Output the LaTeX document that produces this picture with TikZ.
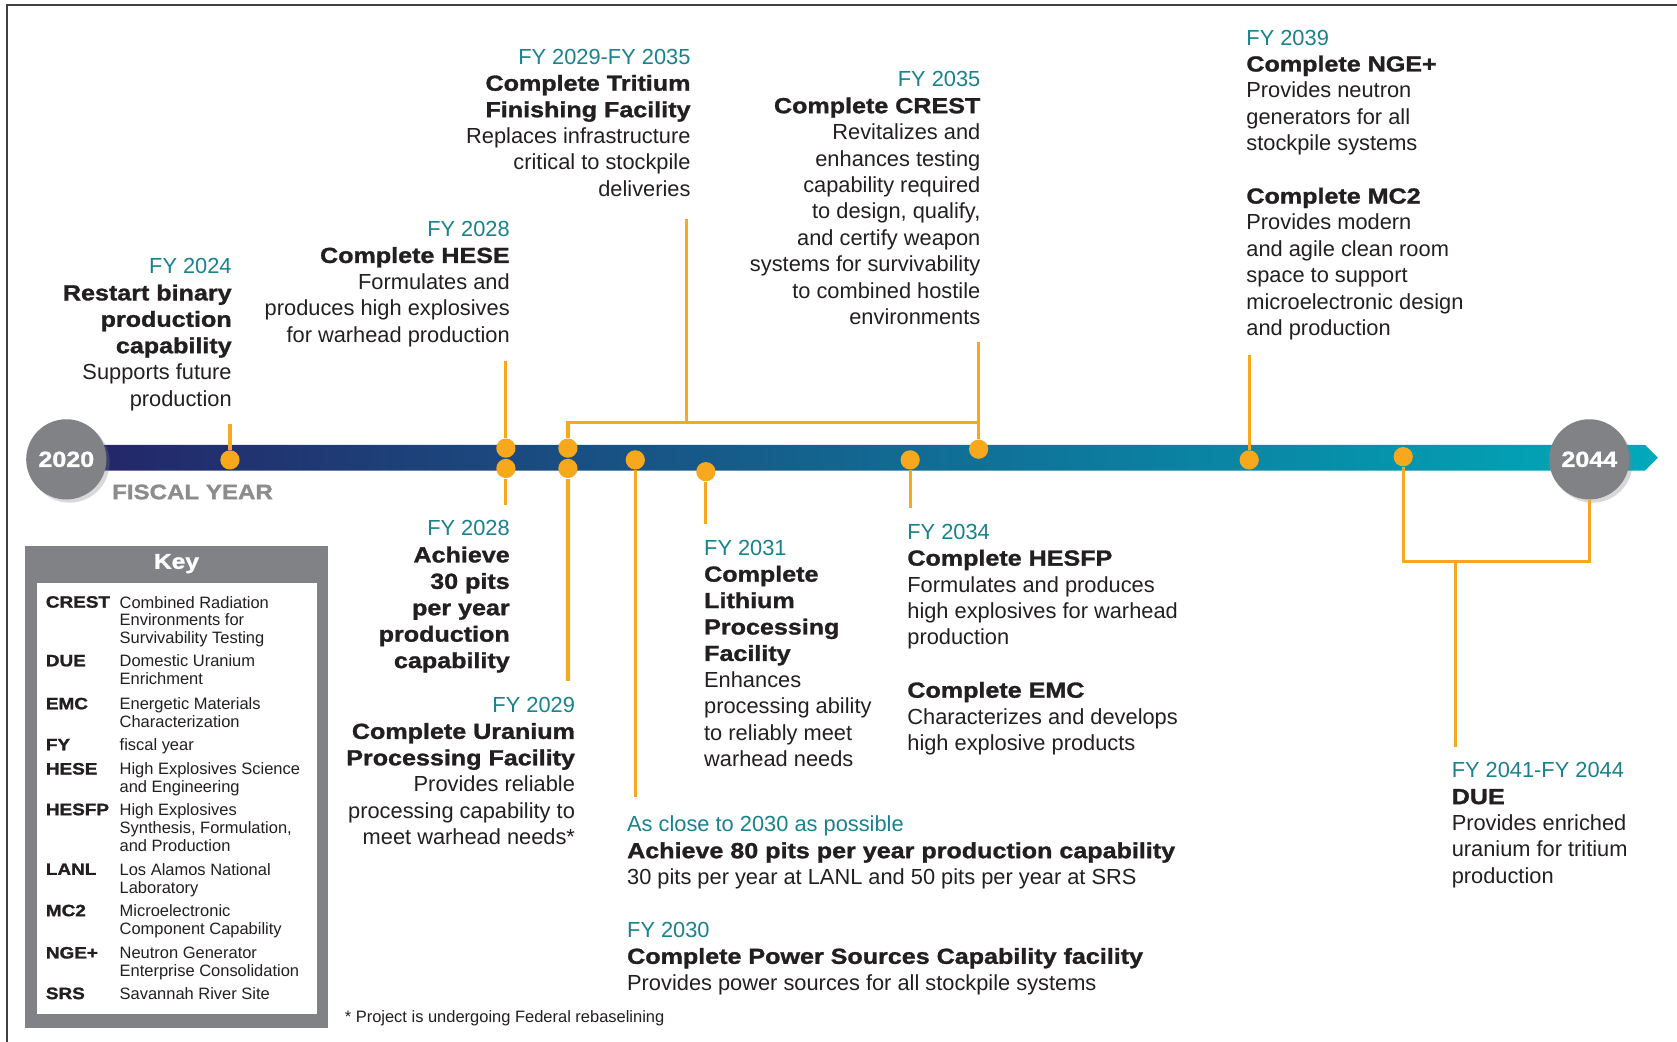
\documentclass[tikz,border=0pt]{standalone}
\usepackage{fontspec}
\setmainfont{Liberation Sans}
\newfontfamily\heavyfont[FakeStretch=1.15,FakeBold=1.3]{Liberation Sans}
\usetikzlibrary{shadows}

\definecolor{fyteal}{RGB}{25,130,140}
\definecolor{pinorange}{RGB}{247,168,28}
\definecolor{ballgray}{RGB}{128,130,133}
\definecolor{inkblack}{RGB}{35,31,32}
\definecolor{barleft}{RGB}{37,36,104}
\definecolor{barmid}{RGB}{14,82,136}
\definecolor{barright}{RGB}{0,170,186}

\newcommand{\hvy}[1]{{\heavyfont\bfseries #1}}
\newcommand{\fy}[1]{\textcolor{fyteal}{#1}}

\begin{document}
\begin{tikzpicture}[x=0.5pt,y=-0.5pt,
		txt/.style={inner sep=0pt,font=\fontsize{10.2}{12.35}\selectfont,text=inkblack},
		rtxt/.style={txt,align=right,anchor=north east},
		ltxt/.style={txt,align=left,anchor=north west},
		dot/.style={circle,fill=pinorange,inner sep=0pt,minimum size=9pt},
		stem/.style={pinorange,line width=1.5pt},
		yearball/.style={circle,fill=ballgray,inner sep=0pt,minimum size=37.5pt,text=white,
			font=\heavyfont\bfseries\fontsize{10.2}{12}\selectfont,
			drop shadow={shadow xshift=1.5pt,shadow yshift=-1.5pt,opacity=0.3}},
		keyabbr/.style={inner sep=0pt,anchor=north west,text=inkblack,font=\heavyfont\bfseries\fontsize{7.7}{8.3}\selectfont},
		keytxt/.style={inner sep=0pt,anchor=north west,align=left,text=inkblack,font=\fontsize{7.7}{8.3}\selectfont}]
			\useasboundingbox (0,0) rectangle (1568,974);
			\fill[white] (0,0) rectangle (1568,974);
			\draw[black!75,line width=1pt] (6.5,974) -- (6.5,4.7) -- (1568,4.7);

			\shade[left color=barleft,middle color=barmid,right color=barright] (62,416) -- (1538,416) -- (1550,428) -- (1538,440) -- (62,440) -- cycle;
			\node[yearball] (y2020) at (62,429.5) {2020};
			\node[yearball] (y2044) at (1486,429.5) {2044};
			\node[inner sep=0pt,text=black!45,font=\heavyfont\bfseries\fontsize{9.8}{11}\selectfont] (fiscal) at (180,460) {FISCAL YEAR};

			\node[dot] (d2024) at (215,430) {};
			\node[dot] (d2028a) at (473,419) {};
			\node[dot] (d2028b) at (473,438) {};
			\node[dot] (d2029a) at (531,419) {};
			\node[dot] (d2029b) at (531,438) {};
			\node[dot] (d2030) at (594,430) {};
			\node[dot] (d2031) at (660,441) {};
			\node[dot] (d2034) at (851,430) {};
			\node[dot] (d2035) at (915,420) {};
			\node[dot] (d2039) at (1168,430) {};
			\node[dot] (d2041) at (1312,427) {};

			\coordinate (s2024) at (215,396);
			\coordinate (s2028a) at (473,338);
			\coordinate (s2028b) at (473,472);
			\coordinate (s2029b) at (531,637);
			\coordinate (s2030) at (594,745);
			\coordinate (s2031) at (660,490);
			\coordinate (s2034) at (851,475);
			\coordinate (s2039) at (1168,332);
			\coordinate (crtop) at (915,320);
			\coordinate (tritop) at (642,205);
			\coordinate (trifoot) at (642,395);
			\coordinate (brk) at (915,395);
			\coordinate (duecorner) at (1486,525);
			\coordinate (duejoin) at (1361,525);
			\coordinate (duefoot) at (1361,698);

			\draw[stem] (d2024) -- (s2024);
			\draw[stem] (d2028a) -- (s2028a);
			\draw[stem] (d2028b) -- (s2028b);
			\draw[stem] (d2029a) |- (brk) -- (d2035);
			\draw[stem] (tritop) -- (trifoot);
			\draw[stem] (crtop) -- (d2035);
			\draw[stem] (d2029b) -- (s2029b);
			\draw[stem] (d2030) -- (s2030);
			\draw[stem] (d2031) -- (s2031);
			\draw[stem] (d2034) -- (s2034);
			\draw[stem] (d2039) -- (s2039);
			\draw[stem] (d2041) |- (duecorner) -- (y2044);
			\draw[stem] (duejoin) -- (duefoot);

			\node[rtxt] (t2024) at (217,241.5) {\fy{FY 2024}\\ \hvy{Restart binary}\\ \hvy{production}\\ \hvy{capability}\\ Supports future\\ production};
			\node[rtxt] (these) at (477,206.5) {\fy{FY 2028}\\ \hvy{Complete HESE}\\ Formulates and\\ produces high explosives\\ for warhead production};
			\node[rtxt] (ttritium) at (646,45.5) {\fy{FY 2029-FY 2035}\\ \hvy{Complete Tritium}\\ \hvy{Finishing Facility}\\ Replaces infrastructure\\ critical to stockpile\\ deliveries};
			\node[rtxt] (tcrest) at (917,66.5) {\fy{FY 2035}\\ \hvy{Complete CREST}\\ Revitalizes and\\ enhances testing\\ capability required\\ to design, qualify,\\ and certify weapon\\ systems for survivability\\ to combined hostile\\ environments};
			\node[rtxt] (tpits30) at (477,486.5) {\fy{FY 2028}\\ \hvy{Achieve}\\ \hvy{30 pits}\\ \hvy{per year}\\ \hvy{production}\\ \hvy{capability}};
			\node[rtxt] (turanium) at (538,651.5) {\fy{FY 2029}\\ \hvy{Complete Uranium}\\ \hvy{Processing Facility}\\ Provides reliable\\ processing capability to\\ meet warhead needs*};
			\node[ltxt] (tlithium) at (658,504.5) {\fy{FY 2031}\\ \hvy{Complete}\\ \hvy{Lithium}\\ \hvy{Processing}\\ \hvy{Facility}\\ Enhances\\ processing ability\\ to reliably meet\\ warhead needs};
			\node[ltxt] (thesfp) at (848,489.5) {\fy{FY 2034}\\ \hvy{Complete HESFP}\\ Formulates and produces\\ high explosives for warhead\\ production\\[12.35pt] \hvy{Complete EMC}\\ Characterizes and develops\\ high explosive products};
			\node[ltxt] (tpits80) at (586,762.5) {\fy{As close to 2030 as possible}\\ \hvy{Achieve 80 pits per year production capability}\\ 30 pits per year at LANL and 50 pits per year at SRS\\[12.35pt] \fy{FY 2030}\\ \hvy{Complete Power Sources Capability facility}\\ Provides power sources for all stockpile systems};
			\node[ltxt] (tnge) at (1165,27.5) {\fy{FY 2039}\\ \hvy{Complete NGE+}\\ Provides neutron\\ generators for all\\ stockpile systems\\[12.35pt] \hvy{Complete MC2}\\ Provides modern\\ and agile clean room\\ space to support\\ microelectronic design\\ and production};
			\node[ltxt] (tdue) at (1357,712.5) {\fy{FY 2041-FY 2044}\\ \hvy{DUE}\\ Provides enriched\\ uranium for tritium\\ production};

			\fill[ballgray] (23.5,510.5) rectangle (306.5,961);
			\fill[white] (35,545.5) rectangle (296.5,948);
			\node[inner sep=0pt,text=white,font=\heavyfont\bfseries\fontsize{10}{12}\selectfont] (keytitle) at (165,527) {Key};
			\node[keyabbr] (kcrest) at (42.5,557) {CREST};
			\node[keytxt] (kcrestd) at (111.5,557) {Combined Radiation\\ Environments for\\ Survivability Testing};
			\node[keyabbr] (kdue) at (42.5,612) {DUE};
			\node[keytxt] (kdued) at (111.5,612) {Domestic Uranium\\ Enrichment};
			\node[keyabbr] (kemc) at (42.5,652) {EMC};
			\node[keytxt] (kemcd) at (111.5,652) {Energetic Materials\\ Characterization};
			\node[keyabbr] (kfy) at (42.5,690.5) {FY};
			\node[keytxt] (kfyd) at (111.5,690.5) {fiscal year};
			\node[keyabbr] (khese) at (42.5,713) {HESE};
			\node[keytxt] (khesed) at (111.5,713) {High Explosives Science\\ and Engineering};
			\node[keyabbr] (khesfp) at (42.5,751) {HESFP};
			\node[keytxt] (khesfpd) at (111.5,751) {High Explosives\\ Synthesis, Formulation,\\ and Production};
			\node[keyabbr] (klanl) at (42.5,807) {LANL};
			\node[keytxt] (klanld) at (111.5,807) {Los Alamos National\\ Laboratory};
			\node[keyabbr] (kmc) at (42.5,845.5) {MC2};
			\node[keytxt] (kmcd) at (111.5,845.5) {Microelectronic\\ Component Capability};
			\node[keyabbr] (knge) at (42.5,885) {NGE+};
			\node[keytxt] (knged) at (111.5,885) {Neutron Generator\\ Enterprise Consolidation};
			\node[keyabbr] (ksrs) at (42.5,923) {SRS};
			\node[keytxt] (ksrsd) at (111.5,923) {Savannah River Site};

			\node[keytxt] (footnote) at (322,944.5) {* Project is undergoing Federal rebaselining};
\end{tikzpicture}
\end{document}
